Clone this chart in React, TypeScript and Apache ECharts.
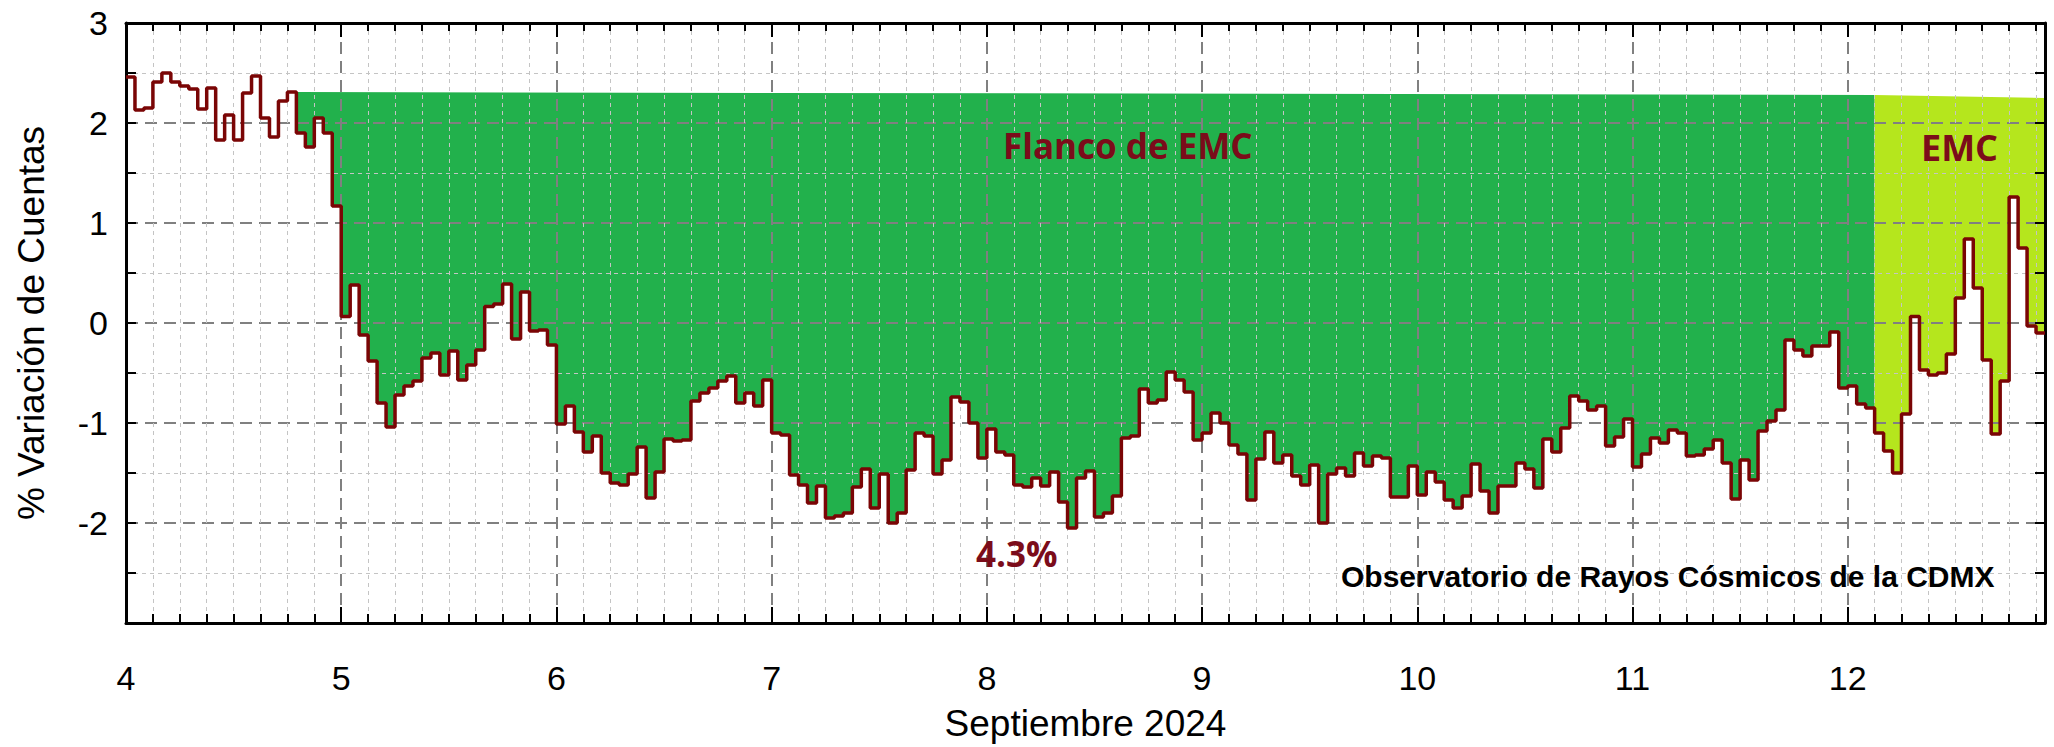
import React, { useEffect, useRef } from "react";
import * as echarts from "echarts";

// Hourly % variation of counts, September 2024 (one value per hour, starting 4 Sep 00:00)
const day4 = [2.46, 2.13, 2.15, 2.41, 2.5, 2.41, 2.37, 2.34, 2.14, 2.35, 1.83, 2.08, 1.83, 2.3, 2.47, 2.05, 1.86, 2.22, 2.31, 1.9, 1.76, 2.05, 1.9, 1.17];
const day5 = [0.065, 0.38, -0.12, -0.38, -0.8, -1.04, -0.72, -0.63, -0.58, -0.35, -0.3, -0.52, -0.28, -0.57, -0.42, -0.27, 0.165, 0.19, 0.39, -0.16, 0.31, -0.08, -0.07, -0.22];
const day6 = [-1.01, -0.83, -1.09, -1.29, -1.13, -1.5, -1.6, -1.62, -1.51, -1.24, -1.75, -1.49, -1.16, -1.18, -1.17, -0.78, -0.7, -0.65, -0.58, -0.53, -0.8, -0.7, -0.83, -0.57];
const day7 = [-1.1, -1.12, -1.52, -1.62, -1.8, -1.63, -1.95, -1.93, -1.9, -1.64, -1.46, -1.85, -1.51, -2.0, -1.9, -1.47, -1.1, -1.13, -1.51, -1.37, -0.74, -0.79, -1.0, -1.35];
const day8 = [-1.06, -1.29, -1.32, -1.62, -1.64, -1.55, -1.63, -1.49, -1.79, -2.05, -1.55, -1.48, -1.94, -1.9, -1.73, -1.15, -1.13, -0.66, -0.8, -0.77, -0.49, -0.57, -0.69, -1.17];
const day9 = [-1.1, -0.9, -1.0, -1.22, -1.31, -1.77, -1.36, -1.09, -1.4, -1.32, -1.53, -1.62, -1.42, -2.0, -1.51, -1.45, -1.53, -1.3, -1.43, -1.33, -1.35, -1.74, -1.74, -1.43];
const day10 = [-1.72, -1.49, -1.59, -1.77, -1.85, -1.73, -1.41, -1.68, -1.9, -1.63, -1.63, -1.4, -1.46, -1.65, -1.16, -1.29, -1.05, -0.73, -0.78, -0.87, -0.83, -1.23, -1.14, -0.96];
const day11 = [-1.44, -1.31, -1.15, -1.2, -1.07, -1.1, -1.33, -1.32, -1.26, -1.17, -1.4, -1.76, -1.37, -1.57, -1.08, -0.98, -0.87, -0.17, -0.27, -0.33, -0.23, -0.23, -0.09, -0.65];
const day12 = [-0.63, -0.81, -0.85, -1.1, -1.28, -1.5, -0.91, 0.065, -0.47, -0.52, -0.5, -0.31, 0.25, 0.84, 0.35, -0.37, -1.11, -0.58, 1.26, 0.75, -0.03, -0.1];

const START_DAY = 4;
const X_MAX = 12 + 22 / 24;
const Y_TICKS = [-3, 3];

// Shaded intervals (hour indexes) and the level they are shaded up to
const flankRange = [19, 195];
const flankTop = [2.31, 2.28];
const emcRange = [195, 214];
const emcTop = [2.28, 2.25];

const TEXT_FLANK = "Flanco de EMC";
const TEXT_EMC = "EMC";
const TEXT_DROP = "4.3%";
const TEXT_SOURCE = "Observatorio de Rayos Cósmicos de la CDMX";

const values = [...day4, ...day5, ...day6, ...day7, ...day8, ...day9, ...day10, ...day11, ...day12];
const times = values.map((_, i) => START_DAY + i / 24);
const timeAt = (i: number) => (i < values.length ? times[i] : X_MAX);

const GREEN = "#22b14c";
const LIME = "#b5e61d";
const LINE = "#7a0505";
const LABEL_RED = "#7b0c1a";

const regions = [
  { range: flankRange, top: flankTop, color: GREEN },
  { range: emcRange, top: emcTop, color: LIME },
];

export default function App() {
  const ref = useRef<HTMLDivElement>(null);
  useEffect(() => {
    if (!ref.current) return;
    const chart = echarts.init(ref.current, undefined, { renderer: "svg" });
    const lineData = values.map((v, i) => [times[i], v]);
    lineData.push([X_MAX, values[values.length - 1]]);

    const axisFont = "'Liberation Sans', Arial, sans-serif";
    const majorSplit = { show: true, lineStyle: { color: "#808080", width: 2, type: [12, 7] } };
    const minorSplit = { show: true, lineStyle: { color: "#c4c4c4", width: 1, type: [4, 4] } };
    const frameLine = { show: true, onZero: false, lineStyle: { color: "#000", width: 3 } };

    const option: any = {
      animation: false,
      backgroundColor: "#fff",
      grid: { left: 126, top: 23, right: 9, bottom: 122, containLabel: false },
      xAxis: [
        {
          type: "value",
          position: "bottom",
          min: START_DAY,
          max: X_MAX,
          interval: 1,
          z: 2,
          axisLine: frameLine,
          axisTick: { show: true, inside: true, length: 16, lineStyle: { color: "#000", width: 2 } },
          minorTick: { show: true, splitNumber: 8, length: 9, lineStyle: { color: "#000", width: 2 } },
          splitLine: majorSplit,
          minorSplitLine: minorSplit,
          axisLabel: {
            fontSize: 34,
            color: "#000",
            fontFamily: axisFont,
            margin: 38,
            showMaxLabel: false,
            formatter: (v: number) => String(Math.round(v)),
          },
          name: "Septiembre 2024",
          nameLocation: "middle",
          nameGap: 82,
          nameTextStyle: { fontSize: 37, color: "#000", fontFamily: axisFont },
        },
        {
          type: "value",
          position: "top",
          min: START_DAY,
          max: X_MAX,
          interval: 1,
          z: 2,
          axisLine: frameLine,
          axisTick: { show: true, inside: true, length: 14, lineStyle: { color: "#000", width: 2 } },
          minorTick: { show: true, splitNumber: 8, length: 8, lineStyle: { color: "#000", width: 2 } },
          splitLine: { show: false },
          axisLabel: { show: false },
        },
      ],
      yAxis: [
        {
          type: "value",
          position: "left",
          min: Y_TICKS[0],
          max: Y_TICKS[1],
          interval: 1,
          z: 2,
          axisLine: frameLine,
          axisTick: { show: true, inside: true, length: 10, lineStyle: { color: "#000", width: 2 } },
          minorTick: { show: true, splitNumber: 2, length: 10, lineStyle: { color: "#000", width: 2 } },
          splitLine: majorSplit,
          minorSplitLine: minorSplit,
          axisLabel: { fontSize: 34, color: "#000", fontFamily: axisFont, margin: 18, showMinLabel: false },
          name: "% Variación de Cuentas",
          nameLocation: "middle",
          nameGap: 76,
          nameTextStyle: { fontSize: 37, color: "#000", fontFamily: axisFont },
        },
        {
          type: "value",
          position: "right",
          min: Y_TICKS[0],
          max: Y_TICKS[1],
          interval: 1,
          z: 2,
          axisLine: frameLine,
          axisTick: { show: true, inside: true, length: 10, lineStyle: { color: "#000", width: 2 } },
          minorTick: { show: true, splitNumber: 2, length: 10, lineStyle: { color: "#000", width: 2 } },
          splitLine: { show: false },
          axisLabel: { show: false },
        },
      ],
      series: [
        {
          type: "custom",
          z: 1,
          xAxisIndex: 0,
          yAxisIndex: 0,
          silent: true,
          clip: true,
          encode: { x: 0, y: 1 },
          data: regions.map((r) => [times[r.range[0]], r.top[0]]),
          renderItem: (params: any, api: any) => {
            const r = regions[params.dataIndex];
            const [s, e] = r.range;
            const pts: number[][] = [];
            pts.push(api.coord([times[s], r.top[0]]));
            pts.push(api.coord([timeAt(e), r.top[1]]));
            for (let i = e - 1; i >= s; i--) {
              pts.push(api.coord([timeAt(i + 1), values[i]]));
              pts.push(api.coord([times[i], values[i]]));
            }
            return { type: "polygon", shape: { points: pts }, style: { fill: r.color } };
          },
        },
        {
          type: "line",
          z: 3,
          xAxisIndex: 0,
          yAxisIndex: 0,
          step: "end",
          symbol: "none",
          data: lineData,
          lineStyle: { color: LINE, width: 3.5 },
          clip: true,
        },
      ],
      graphic: [
        {
          type: "text",
          z: 10,
          x: 1003,
          y: 145,
          style: { text: TEXT_FLANK, fill: LABEL_RED, fontSize: 35, fontWeight: "bold", fontFamily: "'Open Sans', sans-serif", textAlign: "left", textVerticalAlign: "middle" },
        },
        {
          type: "text",
          z: 10,
          x: 1921,
          y: 147,
          style: { text: TEXT_EMC, fill: LABEL_RED, fontSize: 36, fontWeight: "bold", fontFamily: "'Open Sans', sans-serif", textAlign: "left", textVerticalAlign: "middle" },
        },
        {
          type: "text",
          z: 10,
          x: 976,
          y: 553,
          style: { text: TEXT_DROP, fill: LABEL_RED, fontSize: 35, fontWeight: "bold", fontFamily: "'Open Sans', sans-serif", textAlign: "left", textVerticalAlign: "middle" },
        },
        {
          type: "text",
          z: 10,
          x: 1341,
          y: 576,
          style: { text: TEXT_SOURCE, fill: "#000", fontSize: 30, fontWeight: "bold", fontFamily: "'Liberation Sans', Arial, sans-serif", textAlign: "left", textVerticalAlign: "middle" },
        },
      ],
    };
    chart.setOption(option);
    return () => chart.dispose();
  }, []);
  return (
    <div
      ref={ref}
      style={{ position: "fixed", left: 0, top: 0, width: 2054, height: 747, background: "#fff" }}
    />
  );
}
